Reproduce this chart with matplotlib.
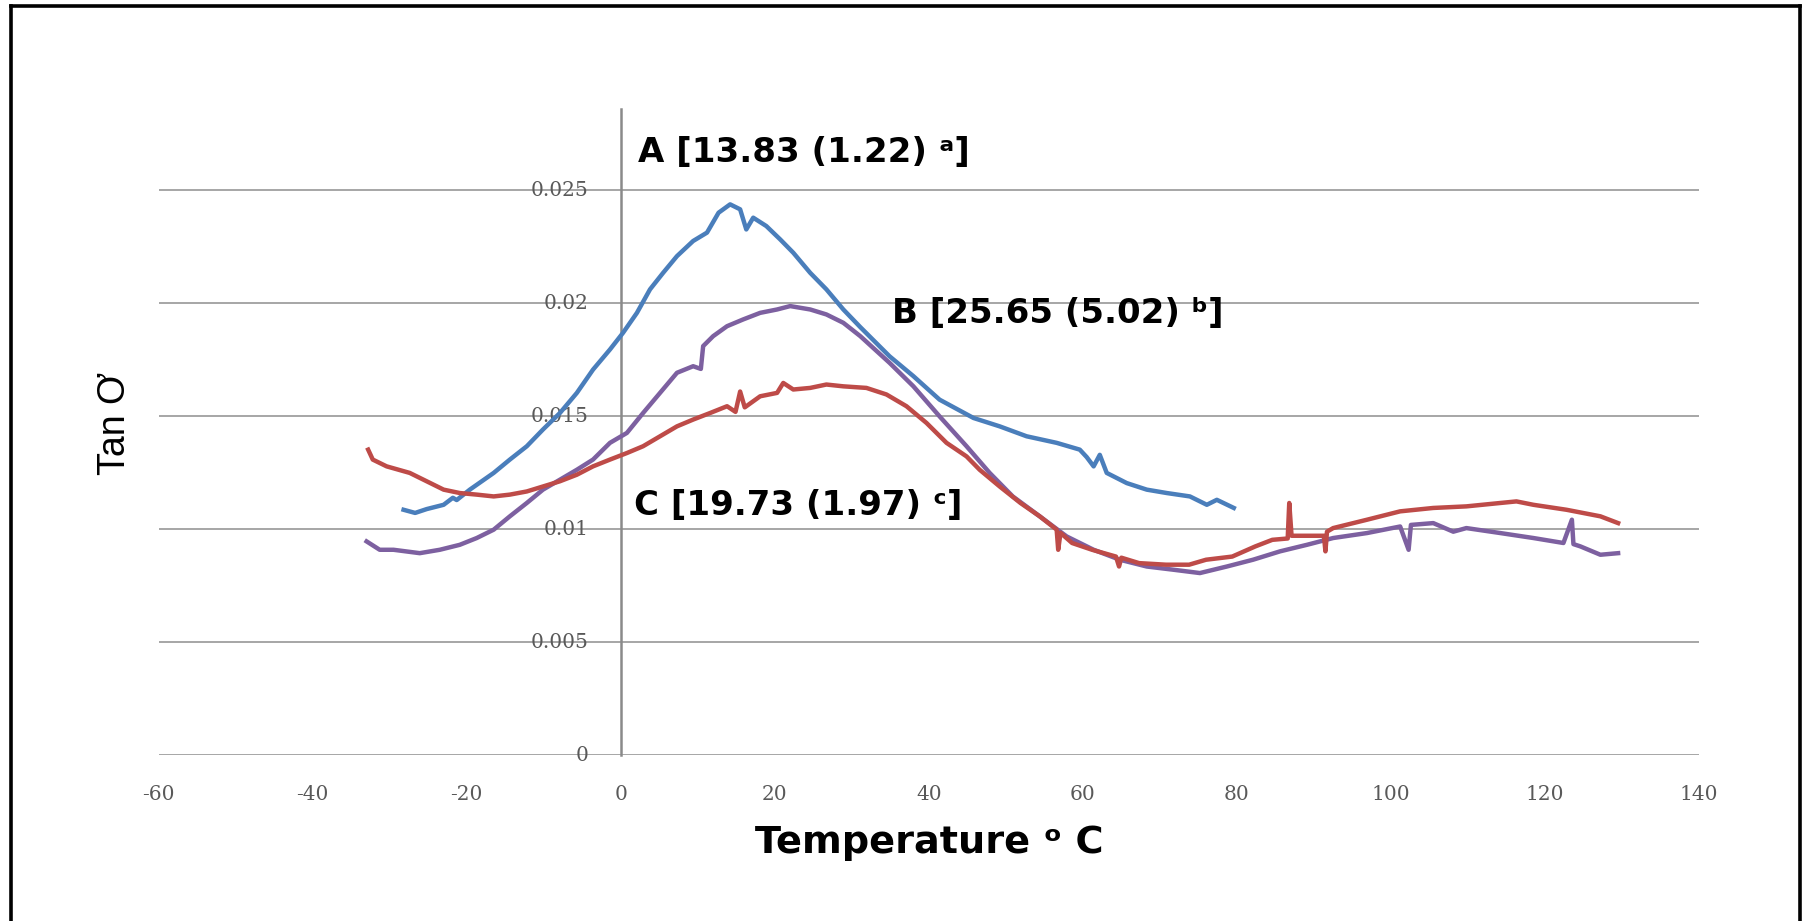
import matplotlib
matplotlib.use("Agg")
import matplotlib.pyplot as plt
from matplotlib.lines import Line2D

# tan delta vs temperature for the three samples
a_temp = [-28.2, -26.7, -25.2, -23.0, -21.8, -21.3, -19.6, -16.5, -14.4, -12.2, -10.1, -7.9,
          -5.7, -3.6, -1.4, 0.3, 2.1, 3.8, 5.5, 7.3, 9.4, 11.2, 12.7, 14.2, 15.5, 16.3,
          17.2, 18.9, 20.7, 22.4, 24.6, 26.7, 28.9, 31.1, 34.9, 38.0, 41.4, 45.8, 49.2,
          52.7, 56.6, 59.6, 60.5, 61.4, 62.2, 63.1, 65.7, 68.3, 70.9, 73.9, 76.1, 77.4, 79.6]
a_tan = [0.01087, 0.01073, 0.0109, 0.01109, 0.0114, 0.0113, 0.01176, 0.0125, 0.01309, 0.01368,
         0.01442, 0.01515, 0.01604, 0.01707, 0.01796, 0.0187, 0.01958, 0.02062, 0.02135,
         0.02209, 0.02276, 0.02313, 0.02401, 0.02438, 0.02416, 0.02327, 0.02379, 0.02342,
         0.02283, 0.02224, 0.02135, 0.02062, 0.01973, 0.01895, 0.01766, 0.01678, 0.01574,
         0.01493, 0.01456, 0.01412, 0.01383, 0.01353, 0.01320, 0.01279, 0.01330, 0.0125,
         0.01205, 0.01176, 0.01161, 0.01146, 0.01109, 0.01131, 0.01095]

b_temp = [-33.0, -31.3, -29.5, -26.1, -23.5, -20.9, -18.7, -16.5, -14.4, -12.2, -10.1, -7.9,
          -5.7, -3.6, -1.4, 0.8, 2.9, 5.1, 7.3, 9.4, 10.4, 10.7, 12.0, 13.8, 15.9, 18.1,
          20.3, 22.0, 24.6, 26.7, 28.9, 31.1, 34.9, 38.0, 41.4, 44.9, 47.9, 50.9, 54.4,
          57.9, 61.4, 64.8, 68.3, 71.7, 75.2, 78.7, 82.1, 85.6, 89.1, 92.5, 96.9, 101.2,
          102.3, 102.6, 105.5, 108.1, 109.8, 114.2, 118.5, 122.4, 123.5, 123.7, 124.6, 127.2,
          129.5]
b_tan = [0.00947, 0.0091, 0.0091, 0.00895, 0.0091, 0.00932, 0.00962, 0.00999, 0.01058,
         0.01117, 0.01176, 0.0122, 0.01264, 0.01309, 0.01383, 0.01427, 0.01515, 0.01604,
         0.01693, 0.01722, 0.0171, 0.01811, 0.01855, 0.01899, 0.01929, 0.01958, 0.01973,
         0.01988, 0.01973, 0.01951, 0.01914, 0.01855, 0.01737, 0.01633, 0.0150, 0.01368,
         0.0125, 0.01146, 0.01058, 0.00969, 0.0091, 0.00866, 0.00836, 0.00822, 0.00807,
         0.00836, 0.00866, 0.00903, 0.00932, 0.00962, 0.00984, 0.01013, 0.0091, 0.01020,
         0.01028, 0.0099, 0.01006, 0.00984, 0.00962, 0.0094, 0.01043, 0.00935, 0.00925,
         0.00888, 0.00895]

c_temp = [-32.8, -32.2, -30.4, -27.4, -25.2, -23.0, -20.9, -18.7, -16.5, -14.4, -12.2, -10.1,
          -7.9, -5.7, -3.6, -1.4, 0.8, 2.9, 5.1, 7.3, 9.4, 11.6, 13.8, 14.9, 15.5, 16.1,
          18.1, 20.3, 21.1, 22.4, 24.6, 26.7, 28.9, 31.9, 34.5, 37.1, 39.7, 42.3, 44.9,
          46.6, 49.2, 51.9, 54.4, 56.6, 56.8, 57.1, 58.6, 61.2, 64.3, 64.7, 65.0, 67.3,
          70.8, 73.8, 76.0, 79.4, 82.4, 84.6, 86.6, 86.8, 87.1, 88.2, 91.3, 91.5, 91.7,
          92.5, 96.9, 101.2, 105.5, 109.8, 114.2, 116.3, 118.5, 122.8, 127.2, 129.5]
c_tan = [0.01353, 0.01309, 0.01279, 0.0125, 0.01213, 0.01176, 0.01161, 0.01154, 0.01146,
         0.01154, 0.01168, 0.0119, 0.01213, 0.01242, 0.01279, 0.01309, 0.01338, 0.01368,
         0.01412, 0.01456, 0.01486, 0.01515, 0.01545, 0.01520, 0.01610, 0.01540, 0.01589,
         0.01604, 0.01648, 0.01619, 0.01626, 0.01641, 0.01633, 0.01626, 0.01597, 0.01545,
         0.01471, 0.01383, 0.01323, 0.01264, 0.0119, 0.01117, 0.01058, 0.00999, 0.0091,
         0.00985, 0.0094, 0.0091, 0.0088, 0.00836, 0.00875, 0.00851, 0.00844, 0.00844,
         0.00866, 0.0088, 0.00925, 0.00954, 0.00960, 0.01117, 0.00972, 0.00972, 0.00972,
         0.00903, 0.00990, 0.01006, 0.01043, 0.0108, 0.01095, 0.01102, 0.01117, 0.01124,
         0.01109, 0.01087, 0.01058, 0.01028]

y_ticks = [0, 0.005, 0.01, 0.015, 0.02, 0.025]
y_labels = ["0", "0.005", "0.01", "0.015", "0.02", "0.025"]
x_ticks = [-60, -40, -20, 0, 20, 40, 60, 80, 100, 120, 140]

labels = ["A [13.83 (1.22) \u1d43]", "B [25.65 (5.02) \u1d47]", "C [19.73 (1.97) \u1d9c]"]
label_pos = [(2.2, 0.02668), (35.2, 0.01955), (1.7, 0.01105)]

fig = plt.figure(figsize=(18.03, 9.21), dpi=100)
ax = fig.add_axes([0.088, 0.1797, 0.8543, 0.702])

ax.plot(a_temp, a_tan, color="#4a7ebb", lw=3.2, zorder=3)
ax.plot(b_temp, b_tan, color="#7d60a0", lw=3.2, zorder=3)
ax.plot(c_temp, c_tan, color="#be4b48", lw=3.2, zorder=4)

ax.set_xlim(-60, 140)
ax.set_ylim(0, 0.0286)

# horizontal gridlines and the vertical axis through zero
for v in y_ticks:
    ax.axhline(v, color="#a6a6a6", lw=1.4, zorder=1)
ax.plot([0, 0], [0, 0.0286], color="#8a8a8a", lw=1.8, zorder=2, clip_on=False)

for s in ax.spines.values():
    s.set_visible(False)
ax.set_yticks([])
ax.set_xticks(x_ticks)
ax.set_xticklabels([str(t) for t in x_ticks], family="DejaVu Serif", fontsize=14.5, color="#595959")
ax.tick_params(axis="x", length=0, pad=21)

for v, lab in zip(y_ticks, y_labels):
    ax.text(-4.2, v, lab, ha="right", va="center", family="DejaVu Serif",
            fontsize=14.5, color="#595959", zorder=2)

for lab, (x, y) in zip(labels, label_pos):
    ax.text(x, y, lab, ha="left", va="center", family="DejaVu Sans",
            fontweight="bold", fontsize=24.5, color="black", zorder=5)

fig.text(0.5155, 0.0847, "Temperature \u1d52 C", ha="center", va="center",
         family="DejaVu Sans", fontweight="bold", fontsize=27.5)
fig.text(0.064, 0.54, "Tan \u01a0", ha="center", va="center", rotation=90,
         family=["Liberation Sans Narrow", "Liberation Sans"], fontsize=27)

# black frame on top, left and right
W, H = 1803, 921
frame = dict(color="black", lw=2.6, transform=fig.transFigure)
fig.add_artist(Line2D([10.5 / W, 10.5 / W], [0, 1 - 6 / H], **frame))
fig.add_artist(Line2D([10.5 / W, 1800 / W], [1 - 6 / H, 1 - 6 / H], **frame))
fig.add_artist(Line2D([1800 / W, 1800 / W], [0, 1 - 6 / H], **frame))

fig.savefig("out.png", dpi=100)
